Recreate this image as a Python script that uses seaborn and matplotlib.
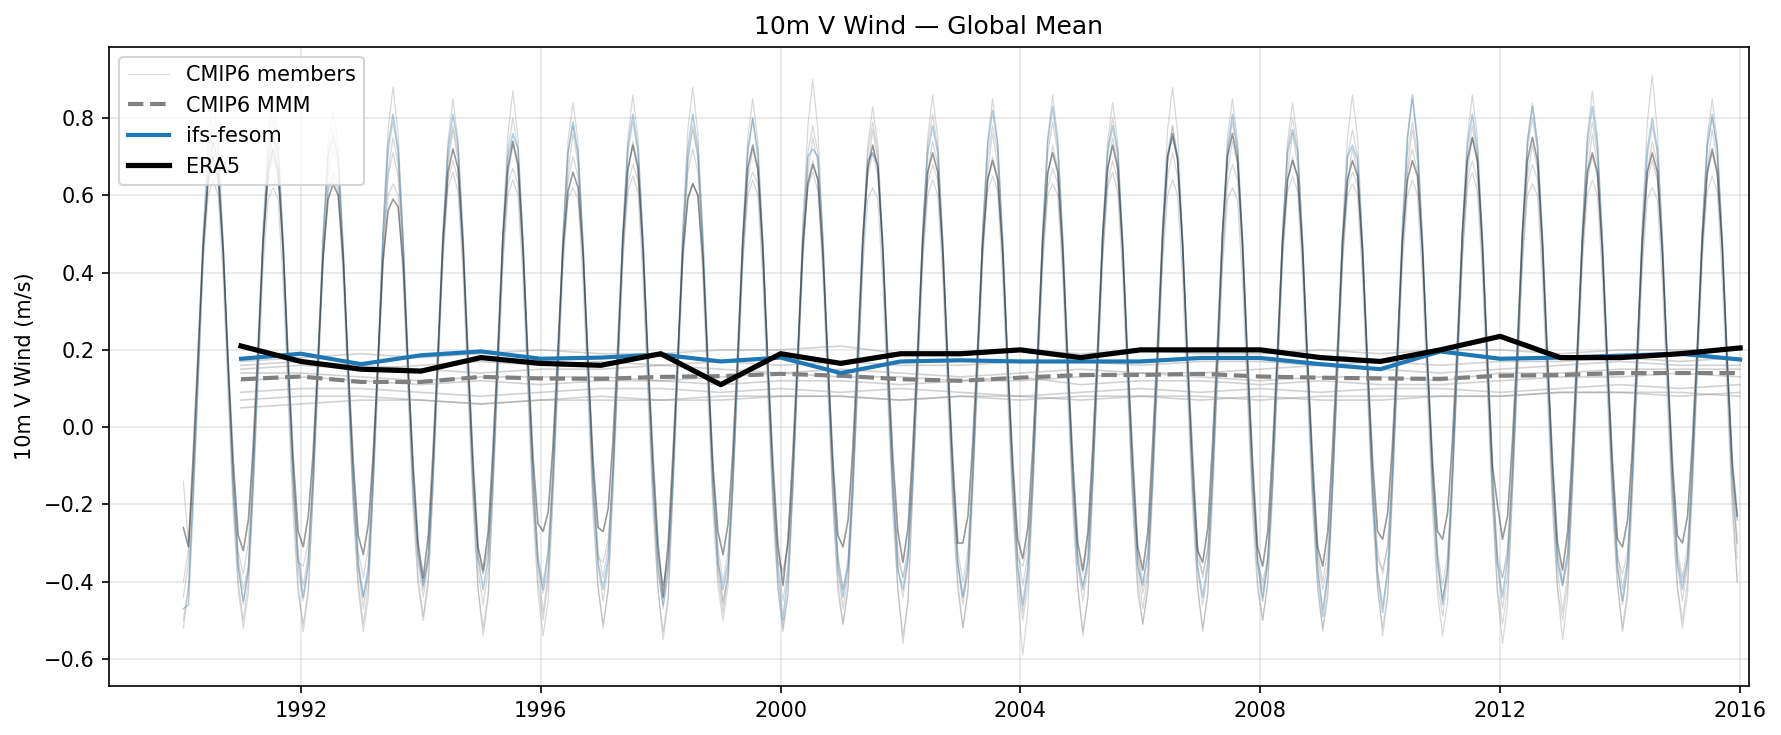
import numpy as np
import pandas as pd
import matplotlib
matplotlib.use("Agg")
import matplotlib.pyplot as plt
import matplotlib.dates as mdates
import seaborn as sns

# monthly global means, 1990-01 .. 2015-12, one row per year (values in 0.01 m/s)
ifs_monthly = [
    [-47, -46, -20, 12, 45, 67, 74, 68, 46, 15, -14, -36],
    [-45, -37, -15, 16, 47, 69, 76, 70, 47, 16, -12, -34],
    [-44, -35, -13, 18, 49, 70, 75, 69, 45, 14, -15, -36],
    [-44, -36, -14, 17, 50, 73, 81, 72, 48, 17, -13, -33],
    [-41, -33, -12, 19, 50, 72, 81, 73, 49, 18, -12, -34],
    [-42, -34, -12, 18, 49, 70, 76, 72, 48, 16, -13, -35],
    [-42, -33, -13, 17, 48, 71, 79, 71, 47, 17, -14, -35],
    [-42, -34, -12, 18, 50, 73, 81, 72, 48, 17, -12, -36],
    [-46, -36, -14, 18, 49, 72, 81, 72, 49, 18, -13, -35],
    [-42, -35, -15, 16, 47, 71, 80, 70, 46, 16, -14, -37],
    [-50, -38, -14, 18, 49, 70, 72, 70, 48, 17, -12, -36],
    [-44, -36, -17, 14, 45, 69, 71, 68, 44, 13, -16, -37],
    [-42, -34, -13, 18, 49, 71, 78, 71, 47, 17, -13, -35],
    [-44, -35, -13, 18, 50, 73, 82, 73, 48, 17, -13, -36],
    [-46, -36, -14, 18, 50, 74, 83, 73, 48, 17, -13, -35],
    [-42, -34, -13, 18, 49, 71, 78, 71, 47, 16, -13, -36],
    [-41, -33, -13, 17, 48, 70, 75, 70, 47, 16, -14, -36],
    [-44, -35, -13, 18, 50, 72, 81, 72, 48, 17, -13, -35],
    [-45, -35, -13, 18, 49, 71, 77, 71, 47, 16, -14, -37],
    [-49, -38, -15, 16, 47, 70, 73, 69, 46, 15, -15, -38],
    [-48, -37, -13, 19, 52, 75, 86, 74, 48, 17, -12, -34],
    [-46, -36, -13, 18, 50, 73, 81, 72, 48, 18, -12, -35],
    [-44, -34, -12, 19, 51, 74, 83, 73, 49, 18, -12, -35],
    [-41, -33, -12, 19, 50, 74, 83, 73, 48, 17, -13, -36],
    [-45, -35, -13, 18, 50, 72, 80, 72, 48, 17, -13, -35],
    [-42, -34, -12, 18, 50, 73, 81, 72, 48, 17, -12, -24],
]

era5_monthly = [
    [-26, -31, -8, 20, 47, 64, 70, 65, 45, 17, -9, -28],
    [-32, -24, -6, 21, 48, 66, 72, 66, 46, 18, -8, -27],
    [-31, -23, -7, 19, 44, 59, 63, 60, 43, 16, -9, -28],
    [-33, -25, -8, 18, 43, 56, 59, 57, 42, 15, -10, -30],
    [-39, -28, -7, 20, 48, 66, 72, 67, 46, 18, -9, -31],
    [-37, -27, -6, 21, 49, 67, 74, 68, 46, 18, -8, -25],
    [-27, -22, -5, 21, 46, 61, 66, 62, 44, 17, -9, -26],
    [-27, -21, -4, 22, 49, 67, 73, 67, 46, 18, -8, -30],
    [-44, -30, -8, 19, 45, 59, 63, 60, 43, 16, -10, -27],
    [-33, -25, -7, 20, 48, 67, 73, 67, 46, 17, -9, -30],
    [-41, -29, -7, 20, 47, 63, 68, 64, 44, 17, -9, -28],
    [-31, -24, -6, 21, 49, 67, 73, 67, 46, 18, -8, -27],
    [-35, -26, -6, 21, 48, 66, 71, 66, 45, 17, -9, -30],
    [-30, -23, -5, 21, 47, 64, 69, 64, 45, 17, -9, -29],
    [-34, -26, -6, 21, 48, 66, 71, 66, 45, 17, -9, -30],
    [-37, -27, -6, 21, 49, 67, 73, 67, 46, 18, -8, -31],
    [-37, -27, -5, 22, 50, 70, 76, 69, 47, 18, -8, -32],
    [-35, -26, -5, 22, 50, 70, 76, 69, 47, 18, -9, -31],
    [-36, -27, -6, 21, 48, 64, 69, 65, 45, 17, -9, -31],
    [-36, -27, -6, 21, 48, 64, 69, 65, 45, 17, -9, -27],
    [-29, -22, -5, 21, 48, 64, 69, 65, 45, 17, -9, -27],
    [-29, -22, -4, 22, 50, 69, 75, 69, 47, 18, -10, -20],
    [-29, -23, -4, 22, 50, 69, 75, 69, 47, 18, -9, -30],
    [-37, -27, -6, 21, 48, 66, 71, 66, 45, 17, -9, -29],
    [-31, -24, -6, 21, 48, 66, 71, 66, 45, 17, -9, -28],
    [-30, -23, -5, 21, 48, 66, 72, 66, 46, 17, -9, -23],
]

cmip6_a = [
    [-52, -42, -16, 16, 50, 74, 84, 74, 48, 14, -18, -40],
    [-50, -40, -15, 17, 51, 75, 86, 75, 49, 15, -17, -41],
    [-53, -43, -17, 15, 49, 73, 82, 73, 47, 13, -19, -40],
    [-51, -41, -16, 17, 52, 77, 88, 76, 49, 14, -18, -39],
    [-49, -39, -15, 16, 50, 74, 85, 74, 48, 15, -17, -42],
    [-54, -44, -17, 16, 51, 76, 87, 75, 48, 14, -18, -40],
    [-50, -40, -16, 16, 50, 74, 84, 74, 47, 14, -19, -41],
    [-52, -42, -15, 17, 51, 75, 86, 75, 49, 15, -18, -42],
    [-55, -45, -17, 16, 52, 77, 88, 76, 48, 14, -17, -38],
    [-48, -38, -15, 16, 50, 75, 85, 74, 48, 15, -18, -41],
    [-53, -43, -16, 17, 53, 78, 90, 77, 49, 14, -19, -40],
    [-51, -41, -17, 15, 49, 73, 83, 73, 47, 13, -18, -42],
    [-56, -45, -16, 16, 51, 75, 86, 75, 48, 14, -18, -40],
    [-52, -42, -16, 16, 50, 74, 85, 74, 48, 15, -17, -44],
    [-59, -47, -17, 16, 51, 75, 86, 75, 49, 14, -18, -41],
    [-54, -44, -16, 16, 50, 74, 84, 74, 48, 14, -19, -40],
    [-51, -41, -15, 17, 52, 77, 88, 76, 49, 15, -17, -41],
    [-53, -43, -16, 16, 50, 75, 85, 74, 48, 14, -18, -40],
    [-50, -40, -16, 16, 50, 74, 84, 74, 47, 14, -18, -42],
    [-52, -42, -17, 16, 51, 75, 86, 75, 48, 14, -18, -41],
    [-54, -44, -16, 16, 50, 75, 85, 74, 48, 15, -17, -40],
    [-49, -39, -15, 17, 51, 75, 86, 75, 49, 15, -18, -43],
    [-56, -46, -17, 15, 50, 74, 84, 74, 48, 14, -18, -42],
    [-55, -44, -16, 16, 51, 76, 87, 75, 48, 14, -17, -40],
    [-52, -42, -15, 17, 53, 79, 91, 77, 49, 15, -18, -41],
    [-50, -40, -16, 16, 50, 75, 85, 74, 48, 14, -18, -40],
]

cmip6_b = [
    [-44, -35, -12, 18, 49, 71, 78, 71, 47, 16, -14, -36],
    [-46, -37, -11, 19, 50, 72, 80, 72, 47, 16, -13, -37],
    [-45, -36, -13, 17, 48, 70, 77, 70, 46, 15, -14, -36],
    [-47, -38, -12, 18, 49, 71, 79, 71, 47, 16, -15, -35],
    [-44, -35, -12, 18, 49, 70, 78, 71, 48, 16, -14, -37],
    [-46, -37, -11, 19, 50, 72, 80, 72, 47, 17, -13, -36],
    [-48, -38, -12, 18, 49, 71, 78, 70, 47, 16, -14, -36],
    [-45, -36, -12, 18, 49, 71, 79, 71, 47, 16, -14, -37],
    [-47, -38, -13, 17, 48, 70, 77, 70, 46, 15, -15, -36],
    [-46, -37, -11, 19, 50, 72, 80, 72, 48, 16, -13, -35],
    [-45, -36, -12, 18, 49, 71, 78, 71, 47, 16, -14, -37],
    [-47, -38, -12, 18, 49, 71, 79, 71, 47, 16, -14, -36],
    [-44, -35, -11, 19, 51, 73, 81, 72, 48, 17, -13, -36],
    [-46, -37, -12, 18, 49, 70, 78, 71, 47, 16, -14, -37],
    [-48, -38, -12, 18, 49, 71, 79, 71, 47, 16, -14, -36],
    [-45, -36, -11, 19, 50, 72, 80, 72, 47, 16, -13, -36],
    [-47, -38, -12, 18, 49, 71, 78, 70, 47, 16, -14, -37],
    [-46, -37, -12, 18, 49, 71, 79, 71, 47, 16, -14, -35],
    [-44, -35, -11, 19, 50, 72, 80, 72, 48, 17, -13, -36],
    [-47, -38, -13, 17, 48, 70, 77, 70, 46, 15, -15, -37],
    [-46, -37, -12, 18, 49, 71, 79, 71, 47, 16, -14, -36],
    [-45, -36, -12, 18, 49, 70, 78, 70, 47, 16, -14, -36],
    [-47, -38, -11, 19, 50, 72, 80, 72, 47, 16, -13, -37],
    [-48, -38, -12, 18, 49, 71, 79, 71, 47, 16, -14, -36],
    [-46, -37, -12, 18, 49, 70, 78, 71, 47, 16, -14, -36],
    [-45, -36, -11, 19, 50, 72, 80, 72, 48, 16, -13, -34],
]

cmip6_c = [
    [-40, -32, -10, 18, 45, 63, 68, 64, 44, 16, -12, -32],
    [-38, -30, -9, 19, 46, 64, 70, 65, 44, 16, -11, -33],
    [-41, -33, -11, 17, 44, 62, 66, 63, 43, 15, -12, -32],
    [-39, -31, -10, 18, 46, 65, 71, 65, 45, 16, -12, -31],
    [-42, -34, -10, 18, 45, 64, 69, 64, 44, 16, -13, -32],
    [-38, -30, -10, 18, 45, 63, 67, 63, 44, 16, -12, -33],
    [-40, -32, -9, 19, 46, 64, 70, 65, 45, 17, -11, -32],
    [-39, -31, -10, 18, 45, 63, 68, 64, 44, 16, -12, -32],
    [-41, -33, -10, 18, 46, 66, 72, 66, 45, 16, -12, -31],
    [-40, -32, -11, 17, 44, 62, 66, 63, 43, 15, -13, -32],
    [-38, -30, -10, 18, 45, 64, 69, 64, 44, 16, -12, -33],
    [-42, -34, -10, 18, 46, 65, 71, 65, 45, 16, -12, -32],
    [-39, -31, -10, 18, 45, 63, 68, 64, 44, 16, -12, -32],
    [-40, -32, -9, 19, 46, 64, 70, 65, 44, 16, -11, -32],
    [-41, -33, -11, 17, 44, 62, 67, 63, 43, 15, -12, -33],
    [-38, -30, -10, 18, 45, 63, 69, 64, 44, 16, -12, -32],
    [-40, -32, -10, 18, 46, 65, 71, 65, 45, 16, -12, -31],
    [-39, -31, -10, 18, 45, 63, 68, 64, 44, 16, -12, -33],
    [-42, -34, -10, 18, 45, 64, 70, 64, 44, 16, -12, -32],
    [-40, -32, -11, 17, 44, 62, 66, 63, 43, 15, -13, -32],
    [-38, -30, -9, 19, 47, 66, 72, 66, 45, 17, -11, -32],
    [-41, -33, -10, 18, 45, 64, 69, 64, 44, 16, -12, -33],
    [-39, -31, -10, 18, 45, 63, 68, 64, 44, 16, -12, -32],
    [-40, -32, -10, 18, 46, 64, 70, 65, 44, 16, -12, -32],
    [-42, -34, -10, 18, 45, 64, 69, 64, 44, 16, -12, -32],
    [-39, -31, -9, 19, 46, 65, 71, 65, 45, 16, -11, -30],
]

cmip6_d = [
    [-50, -41, -18, 12, 42, 60, 64, 60, 38, 8, -22, -42],
    [-52, -43, -19, 11, 41, 59, 62, 59, 37, 7, -23, -43],
    [-51, -42, -18, 12, 43, 61, 65, 61, 38, 8, -22, -42],
    [-53, -44, -18, 12, 42, 60, 63, 60, 38, 8, -22, -41],
    [-50, -41, -17, 13, 43, 62, 66, 61, 39, 9, -21, -42],
    [-52, -43, -18, 12, 42, 60, 64, 60, 38, 8, -22, -43],
    [-54, -45, -19, 11, 41, 59, 62, 59, 37, 7, -23, -42],
    [-51, -42, -18, 12, 43, 61, 65, 61, 38, 8, -22, -42],
    [-53, -44, -18, 12, 42, 60, 63, 60, 38, 8, -22, -41],
    [-50, -41, -18, 12, 42, 60, 64, 60, 38, 8, -22, -42],
    [-52, -43, -17, 13, 43, 62, 66, 61, 39, 9, -21, -43],
    [-51, -42, -19, 11, 41, 59, 62, 59, 37, 7, -23, -42],
    [-54, -45, -18, 12, 42, 60, 64, 60, 38, 8, -22, -42],
    [-52, -43, -18, 12, 43, 61, 65, 61, 38, 8, -22, -41],
    [-50, -41, -18, 12, 42, 60, 63, 60, 38, 8, -22, -42],
    [-53, -44, -17, 13, 43, 62, 66, 61, 39, 9, -21, -43],
    [-51, -42, -18, 12, 42, 60, 64, 60, 38, 8, -22, -42],
    [-52, -43, -19, 11, 41, 59, 62, 59, 37, 7, -23, -42],
    [-50, -41, -18, 12, 43, 61, 65, 61, 38, 8, -22, -41],
    [-53, -44, -18, 12, 42, 60, 63, 60, 38, 8, -22, -42],
    [-52, -43, -18, 12, 42, 60, 64, 60, 38, 8, -22, -43],
    [-54, -45, -17, 13, 43, 62, 66, 61, 39, 9, -21, -42],
    [-51, -42, -18, 12, 42, 60, 63, 60, 38, 8, -22, -42],
    [-50, -41, -18, 12, 42, 60, 64, 60, 38, 8, -22, -41],
    [-53, -44, -19, 11, 41, 59, 62, 59, 37, 7, -23, -42],
    [-52, -43, -18, 12, 43, 61, 65, 61, 38, 8, -22, -40],
]

cmip6_e = [
    [-14, -30, -14, 15, 44, 66, 74, 68, 44, 12, -18, -34],
    [-42, -36, -13, 16, 45, 67, 76, 69, 44, 12, -17, -35],
    [-36, -30, -15, 14, 43, 65, 72, 67, 43, 11, -18, -34],
    [-44, -38, -14, 15, 44, 66, 75, 68, 44, 12, -19, -33],
    [-40, -34, -13, 16, 45, 68, 77, 69, 45, 13, -17, -34],
    [-38, -32, -14, 15, 44, 65, 73, 67, 43, 12, -18, -35],
    [-43, -37, -14, 15, 44, 66, 76, 68, 44, 12, -18, -34],
    [-35, -29, -13, 16, 45, 66, 74, 68, 44, 12, -17, -34],
    [-41, -35, -14, 15, 45, 68, 78, 70, 45, 13, -18, -33],
    [-45, -39, -15, 14, 43, 64, 72, 66, 43, 11, -19, -35],
    [-37, -31, -14, 15, 44, 66, 75, 68, 44, 12, -18, -34],
    [-42, -36, -13, 16, 45, 67, 77, 69, 44, 12, -17, -34],
    [-39, -33, -14, 15, 44, 66, 74, 68, 44, 12, -18, -35],
    [-44, -38, -14, 15, 44, 66, 76, 68, 44, 12, -18, -34],
    [-36, -30, -14, 15, 44, 65, 73, 67, 43, 12, -18, -34],
    [-41, -35, -14, 15, 44, 66, 75, 68, 44, 12, -18, -33],
    [-43, -37, -13, 16, 45, 68, 78, 70, 45, 13, -17, -34],
    [-38, -32, -14, 15, 44, 66, 74, 68, 44, 12, -18, -35],
    [-40, -34, -14, 15, 44, 66, 76, 68, 44, 12, -18, -34],
    [-42, -36, -15, 14, 43, 64, 72, 66, 43, 11, -19, -34],
    [-37, -31, -13, 16, 45, 67, 77, 69, 45, 13, -17, -34],
    [-44, -38, -14, 15, 44, 66, 75, 68, 44, 12, -18, -35],
    [-39, -33, -14, 15, 44, 65, 73, 67, 43, 12, -18, -34],
    [-41, -35, -14, 15, 44, 66, 76, 68, 44, 12, -18, -34],
    [-38, -32, -14, 15, 44, 66, 74, 68, 44, 12, -18, -34],
    [-40, -34, -13, 16, 45, 67, 77, 69, 45, 13, -17, -30],
]

cmip6_monthly = [cmip6_a, cmip6_b, cmip6_c, cmip6_d, cmip6_e]

# annual means, plotted at the end of each year 1990..2015 (values in 0.01 m/s)
era5_annual = [21, 17, 15, 14.5, 18, 16.5, 16, 19, 11, 19, 16.5, 19, 19,
               20, 18, 20, 20, 20, 18, 17, 20, 23.5, 18, 18, 19, 20.5]
ifs_annual = [17.7, 19, 16.3, 18.6, 19.6, 17.7, 18, 18.8, 17, 18, 14, 17, 17.3,
              17, 17, 17, 17.9, 17.9, 16.3, 15, 19.6, 17.7, 18, 18.5, 19, 17.5]
mmm_annual = [12.4, 13.1, 11.7, 11.7, 13, 12.6, 12.5, 13, 13.2, 13.8, 13.3, 12.4, 12,
              12.8, 13.5, 13.5, 13.8, 13.1, 12.8, 12.6, 12.5, 13.3, 13.5, 14, 14, 14]
cmip6_annual = [
    [17, 18, 19, 18, 19, 20, 19, 19, 20, 20, 21, 19, 19, 20, 19, 20, 19, 19, 20, 19, 20, 20, 19, 20, 20, 20],
    [15, 16, 15, 16, 17, 16, 17, 16, 17, 16, 17, 16, 16, 17, 17, 16, 17, 17, 16, 17, 16, 17, 17, 18, 17, 18],
    [16, 17, 16, 15, 14, 15, 15, 16, 15, 14, 15, 14, 13, 14, 15, 14, 14, 15, 16, 15, 14, 15, 16, 17, 16, 16],
    [14, 14, 13, 12, 13, 13, 13, 12, 13, 14, 13, 13, 12, 12, 13, 14, 13, 12, 13, 13, 12, 14, 14, 15, 15, 15],
    [12, 13, 12, 11, 12, 11, 12, 12, 11, 12, 12, 11, 12, 13, 11, 12, 12, 11, 12, 11, 11, 12, 13, 13, 14, 13],
    [9, 10, 10, 9, 8, 9, 10, 10, 9, 10, 9, 10, 9, 8, 9, 10, 9, 10, 9, 10, 10, 9, 10, 11, 10, 11],
    [7, 8, 8, 7, 6, 7, 8, 7, 8, 8, 8, 7, 8, 7, 8, 8, 7, 8, 7, 7, 8, 8, 9, 9, 8, 9],
    [5, 6, 7, 7, 6, 7, 7, 7, 7, 8, 8, 7, 8, 8, 7, 8, 8, 7, 8, 8, 8, 8, 9, 9, 9, 8],
]

months = pd.date_range("1990-01-01", "2015-12-01", freq="MS") + pd.Timedelta(days=14)
year_ends = pd.to_datetime([f"{y}-01-01" for y in range(1991, 2017)])


def to_ms(rows):
    return np.asarray(rows, dtype=float).ravel() / 100.0


fig, ax = plt.subplots(figsize=(1781 / 150, 735 / 150), dpi=150)

# monthly series
for i, rows in enumerate(cmip6_monthly):
    sns.lineplot(x=months, y=to_ms(rows), ax=ax, color="gray", lw=0.6, alpha=0.3,
                 estimator=None, label="CMIP6 members" if i == 0 else None)
sns.lineplot(x=months, y=to_ms(ifs_monthly), ax=ax, color="#1f77b4", lw=0.8,
             alpha=0.35, estimator=None)
sns.lineplot(x=months, y=to_ms(era5_monthly), ax=ax, color="black", lw=0.8,
             alpha=0.4, estimator=None)

# annual means
for vals in cmip6_annual:
    sns.lineplot(x=year_ends, y=to_ms(vals), ax=ax, color="gray", lw=0.8,
                 alpha=0.35, estimator=None)
sns.lineplot(x=year_ends, y=to_ms(mmm_annual), ax=ax, color="gray", lw=2,
             linestyle="--", estimator=None, label="CMIP6 MMM")
sns.lineplot(x=year_ends, y=to_ms(ifs_annual), ax=ax, color="#1f77b4", lw=2,
             estimator=None, label="ifs-fesom")
sns.lineplot(x=year_ends, y=to_ms(era5_annual), ax=ax, color="black", lw=2.5,
             estimator=None, label="ERA5")

ax.set_xlim(pd.Timestamp("1988-10-19"), pd.Timestamp("2016-02-24"))
ax.set_ylim(-0.67, 0.985)
ax.xaxis.set_major_locator(mdates.YearLocator(4))
ax.xaxis.set_major_formatter(mdates.DateFormatter("%Y"))
ax.grid(True, alpha=0.3)
ax.set_xlabel("")
ax.set_ylabel("10m V Wind (m/s)", fontsize=10)
ax.set_title("10m V Wind \u2014 Global Mean", fontsize=12)
ax.legend(loc="upper left", fontsize=10)

fig.subplots_adjust(left=0.0612, right=0.982, top=0.9366, bottom=0.0667)
fig.savefig("out.png", dpi=150)
